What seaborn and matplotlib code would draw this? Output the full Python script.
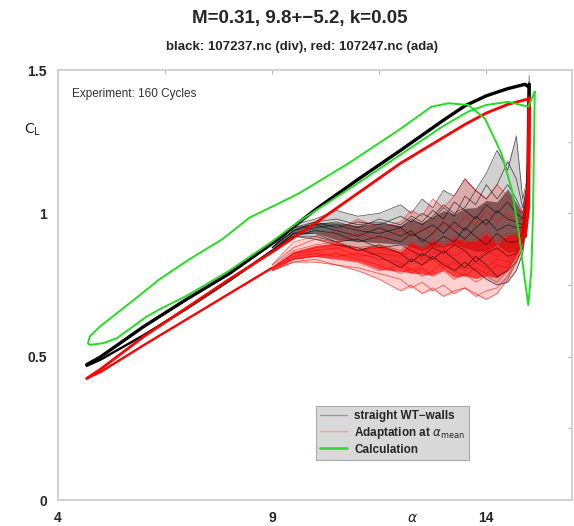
import numpy as np
import pandas as pd
import matplotlib
matplotlib.use("Agg")
import matplotlib.pyplot as plt
from matplotlib.lines import Line2D
import seaborn as sns

# ---------------- data ----------------
# upstroke (attached) branches
BLACK_UP_A = [4.67, 5.0, 6.0, 7.0, 8.0, 9.0, 10.0, 11.0, 12.0, 13.0, 13.5, 14.0, 14.5, 14.9, 15.0]
BLACK_UP_CL = [0.472, 0.50, 0.605, 0.70, 0.79, 0.895, 1.012, 1.118, 1.22, 1.325, 1.375, 1.41, 1.435, 1.45, 1.44]
RED_UP_A = [4.67, 5.0, 6.0, 7.0, 8.0, 9.0, 10.0, 11.0, 12.0, 13.0, 13.5, 14.0, 14.5, 15.0]
RED_UP_CL = [0.424, 0.457, 0.57, 0.67, 0.77, 0.865, 0.965, 1.07, 1.175, 1.265, 1.31, 1.35, 1.38, 1.40]

# stall drop at maximum incidence (bundle of cycles)
BLACK_DROP_A = [15.0, 14.97, 14.9]
BLACK_DROP_CL = [1.45, 1.05, 0.92]
RED_DROP_A = [15.0, 14.98, 14.9]
RED_DROP_CL = [1.40, 1.02, 0.92]

# reattached downstroke branches
BLACK_RE_A = [9.0, 8.0, 7.0, 6.0, 5.0, 4.67]
BLACK_RE_CL = [0.87, 0.765, 0.667, 0.575, 0.49, 0.468]
RED_RE_A = [9.0, 8.0, 7.0, 6.0, 5.0, 4.67]
RED_RE_CL = [0.81, 0.72, 0.63, 0.54, 0.447, 0.424]

# stalled downstroke, individual cycles (sample of the 160)
DOWN_A = [15.0, 14.95, 14.85, 14.7, 14.5, 14.25, 14.0, 13.75, 13.5, 13.25, 13.0,
          12.75, 12.5, 12.25, 12.0, 11.5, 11.0, 10.5, 10.0, 9.5, 9.0]
BLACK_CYCLES = [
    [1.48, 1.12, 1.05, 1.27, 1.15, 1.22, 1.14, 1.08, 1.12, 1.06, 1.08, 1.02, 1.05, 1.00, 1.03, 1.00, 0.99, 1.01, 0.98, 0.96, 0.88],
    [1.45, 1.10, 1.00, 1.05, 1.10, 1.05, 1.10, 1.03, 1.06, 0.99, 1.02, 0.98, 1.00, 0.97, 0.99, 0.96, 0.97, 0.95, 0.97, 0.94, 0.88],
    [1.43, 1.06, 0.96, 0.97, 0.98, 1.01, 0.96, 0.99, 0.94, 0.97, 0.93, 0.96, 0.94, 0.92, 0.95, 0.93, 0.94, 0.96, 0.95, 0.93, 0.87],
    [1.44, 1.04, 0.93, 0.90, 0.90, 0.93, 0.89, 0.92, 0.95, 0.90, 0.92, 0.89, 0.91, 0.93, 0.90, 0.92, 0.90, 0.93, 0.94, 0.92, 0.87],
    [1.46, 1.02, 0.90, 0.86, 0.85, 0.88, 0.86, 0.83, 0.87, 0.89, 0.86, 0.88, 0.85, 0.87, 0.89, 0.88, 0.91, 0.90, 0.93, 0.93, 0.87],
    [1.44, 1.00, 0.88, 0.83, 0.80, 0.78, 0.82, 0.85, 0.81, 0.84, 0.87, 0.84, 0.86, 0.83, 0.86, 0.89, 0.87, 0.90, 0.92, 0.92, 0.87],
    [1.45, 1.05, 0.95, 0.95, 0.96, 0.94, 0.98, 0.95, 0.91, 0.94, 0.97, 0.93, 0.90, 0.94, 0.92, 0.95, 0.92, 0.94, 0.96, 0.94, 0.88],
    [1.43, 0.98, 0.86, 0.80, 0.76, 0.75, 0.77, 0.80, 0.83, 0.80, 0.82, 0.85, 0.82, 0.84, 0.81, 0.85, 0.88, 0.89, 0.91, 0.92, 0.87],
    [1.44, 1.08, 0.98, 1.00, 1.04, 1.00, 1.03, 0.98, 1.01, 1.04, 0.98, 1.01, 0.97, 0.99, 0.96, 0.98, 0.95, 0.97, 0.96, 0.95, 0.88],
    [1.45, 1.10, 1.02, 1.12, 1.18, 1.10, 1.05, 1.08, 1.02, 1.00, 1.03, 0.99, 0.96, 0.98, 0.95, 0.97, 0.96, 0.98, 0.97, 0.95, 0.88],
]
RED_CYCLES = [
    [1.40, 1.10, 1.00, 1.02, 1.06, 1.10, 1.05, 1.08, 1.12, 1.06, 1.02, 1.05, 0.99, 1.01, 0.97, 0.95, 0.98, 0.94, 0.92, 0.90, 0.82],
    [1.41, 1.08, 0.98, 0.97, 1.00, 0.97, 1.01, 0.96, 0.99, 0.94, 0.97, 0.93, 0.95, 0.92, 0.94, 0.91, 0.93, 0.90, 0.91, 0.88, 0.82],
    [1.39, 1.06, 0.96, 0.93, 0.93, 0.90, 0.94, 0.91, 0.88, 0.92, 0.89, 0.91, 0.88, 0.90, 0.87, 0.89, 0.88, 0.90, 0.89, 0.87, 0.81],
    [1.40, 1.04, 0.94, 0.90, 0.88, 0.85, 0.87, 0.84, 0.87, 0.85, 0.88, 0.86, 0.84, 0.87, 0.85, 0.86, 0.85, 0.88, 0.87, 0.86, 0.81],
    [1.41, 1.02, 0.92, 0.87, 0.83, 0.84, 0.81, 0.83, 0.80, 0.83, 0.81, 0.84, 0.82, 0.80, 0.83, 0.84, 0.86, 0.85, 0.86, 0.85, 0.81],
    [1.40, 1.00, 0.90, 0.85, 0.80, 0.76, 0.78, 0.76, 0.79, 0.77, 0.80, 0.78, 0.81, 0.79, 0.82, 0.80, 0.83, 0.84, 0.85, 0.84, 0.80],
    [1.39, 0.99, 0.89, 0.84, 0.78, 0.74, 0.73, 0.71, 0.74, 0.72, 0.75, 0.73, 0.76, 0.74, 0.77, 0.79, 0.81, 0.82, 0.84, 0.83, 0.80],
    [1.40, 1.05, 0.95, 0.92, 0.91, 0.87, 0.90, 0.88, 0.91, 0.89, 0.86, 0.89, 0.87, 0.89, 0.86, 0.88, 0.87, 0.89, 0.88, 0.86, 0.81],
    [1.41, 1.01, 0.91, 0.86, 0.81, 0.82, 0.79, 0.81, 0.78, 0.80, 0.83, 0.80, 0.78, 0.81, 0.79, 0.82, 0.84, 0.86, 0.85, 0.84, 0.81],
    [1.40, 0.98, 0.88, 0.83, 0.77, 0.72, 0.70, 0.72, 0.74, 0.73, 0.71, 0.74, 0.72, 0.75, 0.73, 0.77, 0.80, 0.82, 0.83, 0.83, 0.80],
]

# calculation loop
GREEN_A = [15.13, 15.09, 15.05, 14.98, 14.9, 14.75, 14.6, 14.35, 13.97, 13.58, 13.12, 12.72,
           11.95, 10.79, 9.63, 9.16, 8.47, 7.84, 7.07, 6.37, 5.83, 5.37, 4.98, 4.74, 4.70,
           4.74, 5.05, 5.37, 5.75, 6.06, 6.37, 7.0, 8.0, 9.0, 9.63, 10.0, 11.0, 12.0, 13.0,
           13.58, 14.0, 14.51, 14.98, 15.13]
GREEN_CL = [1.424, 1.00, 0.80, 0.68, 0.767, 0.94, 1.08, 1.21, 1.33, 1.378, 1.384, 1.372,
            1.29, 1.175, 1.07, 1.035, 0.985, 0.91, 0.84, 0.77, 0.705, 0.651, 0.605, 0.57, 0.547,
            0.541, 0.547, 0.564, 0.605, 0.639, 0.665, 0.712, 0.80, 0.902, 0.972, 1.008, 1.105,
            1.205, 1.305, 1.355, 1.378, 1.389, 1.372, 1.424]

TITLE = "M=0.31, 9.8+\u22125.2, k=0.05"
SUBTITLE = "black: 107237.nc (div), red: 107247.nc (ada)"
NOTE = "Experiment: 160 Cycles"
LEGEND_LABELS = ["straight WT\u2212walls", r"Adaptation at $\alpha_{\mathrm{mean}}$", "Calculation"]
XTICKS = [4, 9, 14]
YTICKS = [0, 0.5, 1, 1.5]
YTICK_LABELS = ["0", "0.5", "1", "1.5"]

# ---------------- figure ----------------
sns.set_theme(style="white")
plt.rcParams["font.family"] = ["Liberation Sans", "DejaVu Sans"]
plt.rcParams["mathtext.fontset"] = "dejavusans"

fig = plt.figure(figsize=(5.74, 5.26), dpi=100)
ax = fig.add_axes([58 / 574, 26 / 526, 514 / 574, 430 / 526])


def cycles_df(cycles):
    rows = []
    for i, c in enumerate(cycles):
        for a, v in zip(DOWN_A, c):
            rows.append((i, a, v))
    return pd.DataFrame(rows, columns=["cycle", "alpha", "cl"])


def path_line(xs, ys, **kw):
    df = pd.DataFrame({"alpha": xs, "cl": ys})
    sns.lineplot(data=df, x="alpha", y="cl", sort=False, estimator=None,
                 ax=ax, legend=False, **kw)


def draw_family(up_a, up_cl, re_a, re_cl, drop_a, drop_cl, cycles, color, lw_up, inner_alpha):
    df = cycles_df(cycles)
    arr = np.array(cycles)
    ax.fill_between(DOWN_A[1:], arr.min(axis=0)[1:], arr.max(axis=0)[1:],
                    color=color, alpha=0.18, lw=0)
    ax.fill_between(DOWN_A[1:], np.percentile(arr, 25, axis=0)[1:],
                    np.percentile(arr, 75, axis=0)[1:], color=color, alpha=inner_alpha, lw=0)
    sns.lineplot(data=df, x="alpha", y="cl", units="cycle", estimator=None, sort=False,
                 color=color, lw=0.6, alpha=0.6, ax=ax, legend=False)
    path_line(drop_a, drop_cl, color=color, lw=2.6)
    path_line(up_a, up_cl, color=color, lw=lw_up)
    path_line(re_a, re_cl, color=color, lw=1.7)


draw_family(BLACK_UP_A, BLACK_UP_CL, BLACK_RE_A, BLACK_RE_CL, BLACK_DROP_A, BLACK_DROP_CL,
            BLACK_CYCLES, "black", 2.4, 0.5)
draw_family(RED_UP_A, RED_UP_CL, RED_RE_A, RED_RE_CL, RED_DROP_A, RED_DROP_CL,
            RED_CYCLES, "#ff0000", 2.0, 0.7)
path_line(GREEN_A, GREEN_CL, color="#22dd22", lw=1.4)

ax.set_xlim(4, 16)
ax.set_ylim(0, 1.5)
ax.set_xticks(XTICKS)
ax.set_xticks([6.5, 11.5], minor=True)
ax.set_yticks(YTICKS)
ax.set_yticklabels(YTICK_LABELS)
ax.set_yticks([0.25, 0.75, 1.25], minor=True)
ax.tick_params(which="both", direction="in", top=True, right=True, length=3,
               color="#bbbbbb", width=0.8)
ax.tick_params(which="major", labelsize=10, pad=8)
for lab in ax.get_xticklabels() + ax.get_yticklabels():
    lab.set_fontweight("bold")
for s in ax.spines.values():
    s.set_color("#cccccc")
    s.set_linewidth(1.2)
ax.set_xlabel("")
ax.set_ylabel("")

ax.text(0.027, 0.945, NOTE, transform=ax.transAxes, fontsize=8.5, color="#333333",
        ha="left", va="center")

fig.text(300 / 574, 1 - 18 / 526, TITLE, ha="center", va="center", fontsize=13.5,
         fontweight="bold")
fig.text(302 / 574, 1 - 47 / 526, SUBTITLE, ha="center", va="center", fontsize=9.5,
         fontweight="bold")
fig.text(33 / 574, 1 - 130 / 526, r"$\mathrm{C_L}$", ha="center", va="center", fontsize=10)
fig.text(412 / 574, 1 - 518 / 526, r"$\alpha$", ha="center", va="center", fontsize=10)

handles = [Line2D([], [], color="#999999", lw=1.0),
           Line2D([], [], color="#f2a0a0", lw=1.0),
           Line2D([], [], color="#33dd33", lw=2.0)]
leg = ax.legend(handles, LEGEND_LABELS, loc="lower left", bbox_to_anchor=(0.49, 0.08),
                frameon=True, fancybox=False, facecolor="#d9d9d9", edgecolor="#aaaaaa",
                framealpha=1, handlelength=2.3, handletextpad=0.6, borderpad=0.35,
                labelspacing=0.25, prop={"weight": "bold", "size": 8.5})
leg.get_frame().set_linewidth(0.8)

fig.savefig("out.png", dpi=100)
